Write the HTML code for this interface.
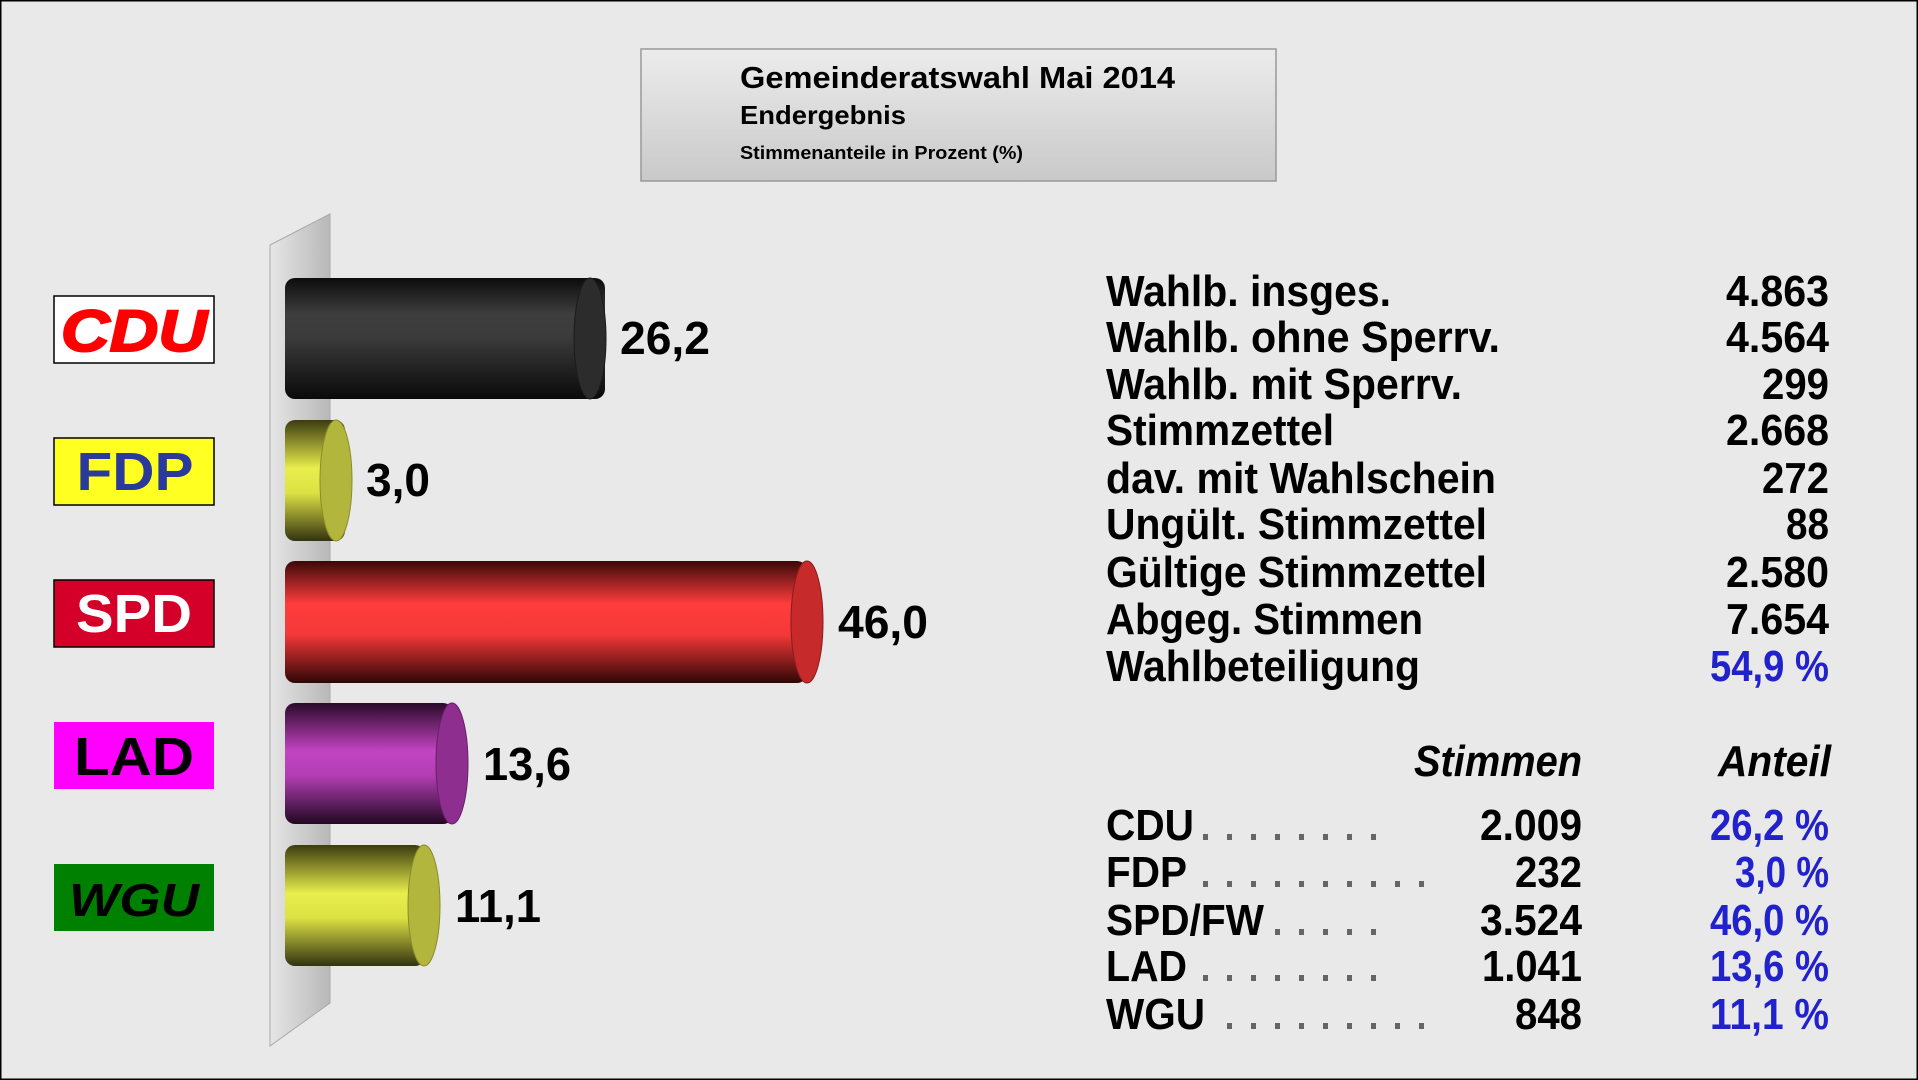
<!DOCTYPE html>
<html><head><meta charset="utf-8"><style>
html,body{margin:0;padding:0;background:#e9e9e9;}
svg{display:block;}
text{font-family:"Liberation Sans Narrow","Liberation Sans",sans-serif;font-weight:bold;}
.n{font-family:"Liberation Sans",sans-serif;}
</style></head><body>
<svg width="1918" height="1080" viewBox="0 0 1918 1080" xmlns="http://www.w3.org/2000/svg">
<defs>
<linearGradient id="tb" x1="0" y1="0" x2="0" y2="1"><stop offset="0" stop-color="#ececec"/><stop offset="1" stop-color="#c9c9c9"/></linearGradient>
<linearGradient id="wall" x1="0" y1="0" x2="1" y2="0"><stop offset="0" stop-color="#e6e6e6"/><stop offset="1" stop-color="#b8b8b8"/></linearGradient>
<linearGradient id="gk" x1="0" y1="0" x2="0" y2="1"><stop offset="0" stop-color="#0c0c0c"/><stop offset="0.3" stop-color="#3e3e3e"/><stop offset="0.5" stop-color="#3a3a3a"/><stop offset="1" stop-color="#0a0a0a"/></linearGradient>
<linearGradient id="gy" x1="0" y1="0" x2="0" y2="1"><stop offset="0" stop-color="#3c3c10"/><stop offset="0.4" stop-color="#e8ee4c"/><stop offset="0.6" stop-color="#dde244"/><stop offset="1" stop-color="#333310"/></linearGradient>
<linearGradient id="gr" x1="0" y1="0" x2="0" y2="1"><stop offset="0" stop-color="#3a0808"/><stop offset="0.35" stop-color="#ff3c3c"/><stop offset="0.6" stop-color="#f53838"/><stop offset="1" stop-color="#300606"/></linearGradient>
<linearGradient id="gp" x1="0" y1="0" x2="0" y2="1"><stop offset="0" stop-color="#2a0a2a"/><stop offset="0.4" stop-color="#c244c2"/><stop offset="0.6" stop-color="#b23eb2"/><stop offset="1" stop-color="#220822"/></linearGradient>
</defs>
<rect x="0.5" y="0.5" width="1917" height="1079" fill="#e9e9e9" stroke="#000" stroke-width="2"/>
<!-- title -->
<rect x="641" y="49" width="635" height="132" fill="url(#tb)" stroke="#999" stroke-width="1.5"/>
<text class="n" x="740" y="88" font-size="31" fill="#000" textLength="435" lengthAdjust="spacingAndGlyphs">Gemeinderatswahl Mai 2014</text>
<text class="n" x="740" y="124" font-size="26" fill="#000" textLength="166" lengthAdjust="spacingAndGlyphs">Endergebnis</text>
<text class="n" x="740" y="159" font-size="18.5" fill="#000" textLength="283" lengthAdjust="spacingAndGlyphs">Stimmenanteile in Prozent (%)</text>
<!-- wall -->
<polygon points="270,245 330,214 330,1003 270,1046" fill="url(#wall)" stroke="#aaa" stroke-width="1"/>
<!-- logos -->
<rect x="54" y="296" width="160" height="67" fill="#fff" stroke="#000" stroke-width="1.5"/>
<text class="n" x="134" y="351" font-size="58" font-style="italic" fill="#f00" stroke="#f00" stroke-width="2" text-anchor="middle" textLength="146" lengthAdjust="spacingAndGlyphs">CDU</text>
<rect x="54" y="438" width="160" height="67" fill="#ffff22" stroke="#000" stroke-width="1.5"/>
<text class="n" x="135" y="490" font-size="54" fill="#2a3a9a" text-anchor="middle" textLength="117" lengthAdjust="spacingAndGlyphs">FDP</text>
<rect x="54" y="580" width="160" height="67" fill="#d5002a" stroke="#000" stroke-width="1.5"/>
<text class="n" x="134" y="632" font-size="54" fill="#fff" text-anchor="middle" textLength="116" lengthAdjust="spacingAndGlyphs">SPD</text>
<rect x="54" y="722" width="160" height="67" fill="#ff00ff"/>
<text class="n" x="134" y="775" font-size="54" fill="#000" text-anchor="middle" textLength="120" lengthAdjust="spacingAndGlyphs" font-weight="normal">LAD</text>
<rect x="54" y="864" width="160" height="67" fill="#008000"/>
<text class="n" x="134" y="916" font-size="46" font-style="italic" fill="#000" text-anchor="middle" textLength="130" lengthAdjust="spacingAndGlyphs" font-weight="normal">WGU</text>
<!-- bars -->
<rect x="285" y="278" width="320" height="121" rx="10" fill="url(#gk)"/>
<ellipse cx="590" cy="338.5" rx="16" ry="60.5" fill="#2c2c2c" stroke="#1a1a1a"/>
<rect x="285" y="420" width="60" height="121" rx="10" fill="url(#gy)"/>
<ellipse cx="336" cy="480.5" rx="16" ry="60.5" fill="#b2b63c" stroke="#8a8c2a"/>
<rect x="285" y="561" width="522" height="122" rx="10" fill="url(#gr)"/>
<ellipse cx="807" cy="622" rx="16" ry="61" fill="#c62a2a" stroke="#8a1c1c"/>
<rect x="285" y="703" width="168" height="121" rx="10" fill="url(#gp)"/>
<ellipse cx="452" cy="763.5" rx="16" ry="60.5" fill="#8e2e8e" stroke="#6a1e6a"/>
<rect x="285" y="845" width="140" height="121" rx="10" fill="url(#gy)"/>
<ellipse cx="424" cy="905.5" rx="16" ry="60.5" fill="#b2b63c" stroke="#8a8c2a"/>
<!-- bar labels -->
<g class="n" font-size="46" fill="#000">
<text class="n" x="620" y="354" textLength="90" lengthAdjust="spacingAndGlyphs">26,2</text>
<text class="n" x="366" y="496" textLength="64" lengthAdjust="spacingAndGlyphs">3,0</text>
<text class="n" x="838" y="638" textLength="90" lengthAdjust="spacingAndGlyphs">46,0</text>
<text class="n" x="483" y="780" textLength="88" lengthAdjust="spacingAndGlyphs">13,6</text>
<text class="n" x="455" y="922" textLength="86" lengthAdjust="spacingAndGlyphs">11,1</text>
</g>
<!-- table 1 -->
<g font-size="44" fill="#000">
<text x="1106" y="306" textLength="285" lengthAdjust="spacingAndGlyphs">Wahlb. insges.</text>
<text x="1106" y="352" textLength="394" lengthAdjust="spacingAndGlyphs">Wahlb. ohne Sperrv.</text>
<text x="1106" y="399" textLength="356" lengthAdjust="spacingAndGlyphs">Wahlb. mit Sperrv.</text>
<text x="1106" y="445" textLength="228" lengthAdjust="spacingAndGlyphs">Stimmzettel</text>
<text x="1106" y="493" textLength="390" lengthAdjust="spacingAndGlyphs">dav. mit Wahlschein</text>
<text x="1106" y="539" textLength="381" lengthAdjust="spacingAndGlyphs">Ungült. Stimmzettel</text>
<text x="1106" y="587" textLength="381" lengthAdjust="spacingAndGlyphs">Gültige Stimmzettel</text>
<text x="1106" y="634" textLength="317" lengthAdjust="spacingAndGlyphs">Abgeg. Stimmen</text>
<text x="1106" y="681" textLength="314" lengthAdjust="spacingAndGlyphs">Wahlbeteiligung</text>
</g>
<g font-size="44" fill="#000" text-anchor="end">
<text x="1829" y="306" textLength="103" lengthAdjust="spacingAndGlyphs">4.863</text>
<text x="1829" y="352" textLength="103" lengthAdjust="spacingAndGlyphs">4.564</text>
<text x="1829" y="399" textLength="67" lengthAdjust="spacingAndGlyphs">299</text>
<text x="1829" y="445" textLength="103" lengthAdjust="spacingAndGlyphs">2.668</text>
<text x="1829" y="493" textLength="67" lengthAdjust="spacingAndGlyphs">272</text>
<text x="1829" y="539" textLength="43" lengthAdjust="spacingAndGlyphs">88</text>
<text x="1829" y="587" textLength="103" lengthAdjust="spacingAndGlyphs">2.580</text>
<text x="1829" y="634" textLength="103" lengthAdjust="spacingAndGlyphs">7.654</text>
<text x="1829" y="681" fill="#2222cc" textLength="119" lengthAdjust="spacingAndGlyphs">54,9 %</text>
</g>
<!-- table 2 -->
<g font-size="44" fill="#000" font-style="italic" text-anchor="end">
<text x="1582" y="776" textLength="168" lengthAdjust="spacingAndGlyphs">Stimmen</text>
<text x="1831" y="776" textLength="113" lengthAdjust="spacingAndGlyphs">Anteil</text>
</g>
<g font-size="44" fill="#000">
<text x="1106" y="840" textLength="88" lengthAdjust="spacingAndGlyphs">CDU</text>
<text x="1106" y="887" textLength="81" lengthAdjust="spacingAndGlyphs">FDP</text>
<text x="1106" y="935" textLength="158" lengthAdjust="spacingAndGlyphs">SPD/FW</text>
<text x="1106" y="981" textLength="81" lengthAdjust="spacingAndGlyphs">LAD</text>
<text x="1106" y="1029" textLength="99" lengthAdjust="spacingAndGlyphs">WGU</text>
</g>
<g fill="#666">
<g transform="translate(0,834)"><rect x="1203" width="5" height="6"/><rect x="1227" width="5" height="6"/><rect x="1251" width="5" height="6"/><rect x="1275" width="5" height="6"/><rect x="1299" width="5" height="6"/><rect x="1323" width="5" height="6"/><rect x="1347" width="5" height="6"/><rect x="1371" width="5" height="6"/></g>
<g transform="translate(0,881)"><rect x="1203" width="5" height="6"/><rect x="1227" width="5" height="6"/><rect x="1251" width="5" height="6"/><rect x="1275" width="5" height="6"/><rect x="1299" width="5" height="6"/><rect x="1323" width="5" height="6"/><rect x="1347" width="5" height="6"/><rect x="1371" width="5" height="6"/><rect x="1395" width="5" height="6"/><rect x="1419" width="5" height="6"/></g>
<g transform="translate(0,929)"><rect x="1275" width="5" height="6"/><rect x="1299" width="5" height="6"/><rect x="1323" width="5" height="6"/><rect x="1347" width="5" height="6"/><rect x="1371" width="5" height="6"/></g>
<g transform="translate(0,975)"><rect x="1203" width="5" height="6"/><rect x="1227" width="5" height="6"/><rect x="1251" width="5" height="6"/><rect x="1275" width="5" height="6"/><rect x="1299" width="5" height="6"/><rect x="1323" width="5" height="6"/><rect x="1347" width="5" height="6"/><rect x="1371" width="5" height="6"/></g>
<g transform="translate(0,1023)"><rect x="1227" width="5" height="6"/><rect x="1251" width="5" height="6"/><rect x="1275" width="5" height="6"/><rect x="1299" width="5" height="6"/><rect x="1323" width="5" height="6"/><rect x="1347" width="5" height="6"/><rect x="1371" width="5" height="6"/><rect x="1395" width="5" height="6"/><rect x="1419" width="5" height="6"/></g>
</g>
<g font-size="44" fill="#000" text-anchor="end">
<text x="1582" y="840" textLength="102" lengthAdjust="spacingAndGlyphs">2.009</text>
<text x="1582" y="887" textLength="67" lengthAdjust="spacingAndGlyphs">232</text>
<text x="1582" y="935" textLength="102" lengthAdjust="spacingAndGlyphs">3.524</text>
<text x="1582" y="981" textLength="100" lengthAdjust="spacingAndGlyphs">1.041</text>
<text x="1582" y="1029" textLength="67" lengthAdjust="spacingAndGlyphs">848</text>
</g>
<g font-size="44" fill="#2222cc" text-anchor="end">
<text x="1829" y="840" textLength="119" lengthAdjust="spacingAndGlyphs">26,2 %</text>
<text x="1829" y="887" textLength="94" lengthAdjust="spacingAndGlyphs">3,0 %</text>
<text x="1829" y="935" textLength="119" lengthAdjust="spacingAndGlyphs">46,0 %</text>
<text x="1829" y="981" textLength="119" lengthAdjust="spacingAndGlyphs">13,6 %</text>
<text x="1829" y="1029" textLength="119" lengthAdjust="spacingAndGlyphs">11,1 %</text>
</g>
</svg>
</body></html>
